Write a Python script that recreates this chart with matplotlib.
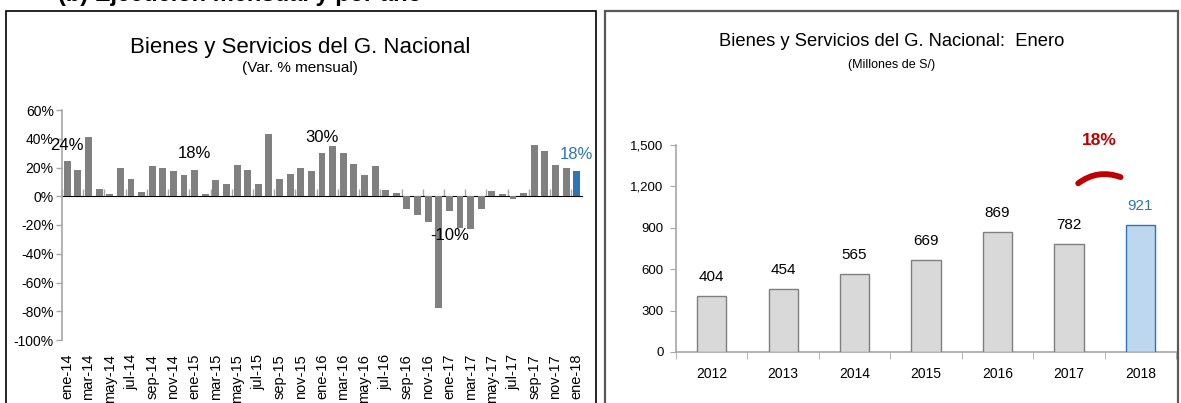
import matplotlib
matplotlib.use('Agg')
import matplotlib.pyplot as plt
import numpy as np
from matplotlib.patches import Rectangle, FancyArrowPatch
from matplotlib import font_manager

# ---------------- data ----------------
months = ['ene-14', 'feb-14', 'mar-14', 'abr-14', 'may-14', 'jun-14', 'jul-14', 'ago-14', 'sep-14', 'oct-14', 'nov-14', 'dic-14',
          'ene-15', 'feb-15', 'mar-15', 'abr-15', 'may-15', 'jun-15', 'jul-15', 'ago-15', 'sep-15', 'oct-15', 'nov-15', 'dic-15',
          'ene-16', 'feb-16', 'mar-16', 'abr-16', 'may-16', 'jun-16', 'jul-16', 'ago-16', 'sep-16', 'oct-16', 'nov-16', 'dic-16',
          'ene-17', 'feb-17', 'mar-17', 'abr-17', 'may-17', 'jun-17', 'jul-17', 'ago-17', 'sep-17', 'oct-17', 'nov-17', 'dic-17',
          'ene-18']
var_pct = [24.4, 18.5, 41.0, 5.0, 1.4, 19.7, 12.0, 3.3, 20.7, 19.7, 17.6, 14.8,
           18.3, 1.4, 11.5, 8.5, 21.6, 18.3, 8.5, 43.0, 12.2, 15.5, 19.5, 17.6,
           29.8, 35.2, 29.8, 22.5, 14.8, 20.7, 4.2, 2.3, -8.8, -13.0, -18.0, -78.0,
           -10.4, -22.0, -23.0, -8.8, 4.0, 1.4, -1.9, 2.1, 36.0, 31.7, 21.6, 19.5,
           17.6]
label_months = ['ene-14', 'ene-15', 'ene-16', 'ene-17', 'ene-18']
label_texts = ['24%', '18%', '30%', '-10%', '18%']

years = ['2012', '2013', '2014', '2015', '2016', '2017', '2018']
enero_vals = [404, 454, 565, 669, 869, 782, 921]
growth_text = '18%'

# ---------------- fonts ----------------
def pick(names):
    for n in names:
        try:
            font_manager.findfont(font_manager.FontProperties(family=n), fallback_to_default=False)
            return n
        except Exception:
            pass
    return 'DejaVu Sans'

NARROW = pick(['Liberation Sans Narrow', 'Arial Narrow', 'Liberation Sans'])
REG = pick(['Liberation Sans', 'Arial', 'DejaVu Sans'])
plt.rcParams['font.family'] = [REG, 'DejaVu Sans']
plt.rcParams['axes.unicode_minus'] = False

W, H = 1181, 403
def fr(x0, y0, x1, y1):
    return [x0 / W, 1 - y1 / H, (x1 - x0) / W, (y1 - y0) / H]

GRAY_AX = '#A6A6A6'
BAR_GRAY = '#808080'
BLUE = '#2E75B6'

fig = plt.figure(figsize=(W / 100, H / 100), dpi=100)

# ---------------- left chart ----------------
ax1 = fig.add_axes(fr(62, 110, 582, 340))
n = len(var_pct)
x = np.arange(n)
colors = [BAR_GRAY] * (n - 1) + [BLUE]
ax1.bar(x, var_pct, width=0.65, color=colors, zorder=3)
ax1.set_xlim(-0.5, n - 0.5)
ylo, yhi = -100, 60
ax1.set_ylim(ylo, yhi)
yt = np.arange(ylo, yhi + 1, 20)
ax1.set_yticks(yt)
ax1.set_yticklabels([f'{int(v)}%' for v in yt], fontsize=10, fontfamily=REG)
ax1.set_xticks(x[::2])
ax1.set_xticklabels(months[::2], rotation=90, fontsize=10.5, fontfamily=REG, va='top')
ax1.tick_params(axis='x', length=0, pad=10)
ax1.tick_params(axis='y', direction='out', length=4, color=GRAY_AX, width=1, pad=2)
for s in ['top', 'right', 'bottom']:
    ax1.spines[s].set_visible(False)
ax1.spines['left'].set_color(GRAY_AX)
ax1.spines['left'].set_linewidth(1.2)

zero_loc = (0 - ylo) / (yhi - ylo)
sec = ax1.secondary_xaxis(zero_loc)
sec.set_xticks(np.arange(-0.5, n, 2))
sec.set_xticklabels([])
sec.tick_params(axis='x', direction='out', length=5, color=GRAY_AX, width=1)
sec.spines['bottom'].set_color(GRAY_AX)
sec.spines['bottom'].set_linewidth(1.2)

for m, t in zip(label_months, label_texts):
    i = months.index(m)
    v = var_pct[i]
    off = 16 if v >= 0 else -24
    col = BLUE if i == n - 1 else 'black'
    ax1.annotate(t, xy=(i, v), xytext=(0, off), textcoords='offset pixels',
                 ha='center', va='center', fontsize=12, color=col, fontfamily=REG,
                 annotation_clip=False)

fig.text(300 / W, 1 - 47 / H, 'Bienes y Servicios del G. Nacional', ha='center', va='center',
         fontsize=16, fontfamily=NARROW)
fig.text(300 / W, 1 - 68 / H, '(Var. % mensual)', ha='center', va='center',
         fontsize=11, fontfamily=NARROW)

# ---------------- right chart ----------------
ax2 = fig.add_axes(fr(676, 145, 1176, 352))
m2 = len(enero_vals)
x2 = np.arange(m2)
fc = ['#D9D9D9'] * (m2 - 1) + ['#BDD7EE']
ec = ['#7F7F7F'] * (m2 - 1) + [BLUE]
ax2.bar(x2, enero_vals, width=0.41, color=fc, edgecolor=ec, linewidth=1.0, zorder=3)
ax2.set_xlim(-0.5, m2 - 0.5)
ax2.set_ylim(0, 1500)
yt2 = np.arange(0, 1501, 300)
ax2.set_yticks(yt2)
ax2.set_yticklabels([f'{v:,}' for v in yt2], fontsize=9.5, fontfamily=NARROW)
ax2.set_xticks(x2)
ax2.set_xticklabels(years, fontsize=10, fontfamily=NARROW)
ax2.set_xticks(np.arange(-0.5, m2, 1), minor=True)
ax2.tick_params(axis='x', which='major', length=0, pad=11)
ax2.tick_params(axis='x', which='minor', direction='out', length=5, color=GRAY_AX)
ax2.tick_params(axis='y', direction='out', length=4, color=GRAY_AX, pad=5)
for s in ['top', 'right']:
    ax2.spines[s].set_visible(False)
for s in ['left', 'bottom']:
    ax2.spines[s].set_color(GRAY_AX)
    ax2.spines[s].set_linewidth(1.2)
for i, v in enumerate(enero_vals):
    col = BLUE if i == m2 - 1 else 'black'
    ax2.annotate(f'{v:,}', xy=(i, v), xytext=(0, 19), textcoords='offset pixels',
                 ha='center', va='center', fontsize=11, color=col, fontfamily=NARROW)

# growth arc between last two bars
xa = (m2 - 2) + 0.1
xb = (m2 - 2) + 0.76
arc = FancyArrowPatch((xa, 1210), (xb, 1260), connectionstyle='arc3,rad=-0.3',
                      arrowstyle='-', lw=4.2, color='#C00000', clip_on=False,
                      transform=ax2.transData)
ax2.add_artist(arc)
ax2.text((m2 - 2) + 0.42, 1530, growth_text, ha='center', va='center', fontsize=12.5,
         fontweight='bold', color='#C00000', fontfamily=NARROW, clip_on=False)

fig.text(892 / W, 1 - 42 / H, 'Bienes y Servicios del G. Nacional:  Enero', ha='center', va='center',
         fontsize=13.2, fontfamily=NARROW)
fig.text(892 / W, 1 - 65 / H, '(Millones de S/)', ha='center', va='center',
         fontsize=9, fontfamily=NARROW)

# ---------------- panel frames & cut header ----------------
fig.add_artist(Rectangle((6 / W, -0.1), (596 - 6) / W, 1.1 - 11 / H, transform=fig.transFigure,
                         fill=False, ec='black', lw=1.2))
fig.add_artist(Rectangle((605 / W, -0.1), (1178 - 605) / W, 1.1 - 11 / H, transform=fig.transFigure,
                         fill=False, ec='#595959', lw=1.6))
fig.text(58 / W, 1 - 1 / H, '(b) Ejecución mensual y por año', ha='left', va='baseline',
         fontsize=17, fontweight='bold', fontfamily=REG)

fig.savefig('out.png', dpi=100)
